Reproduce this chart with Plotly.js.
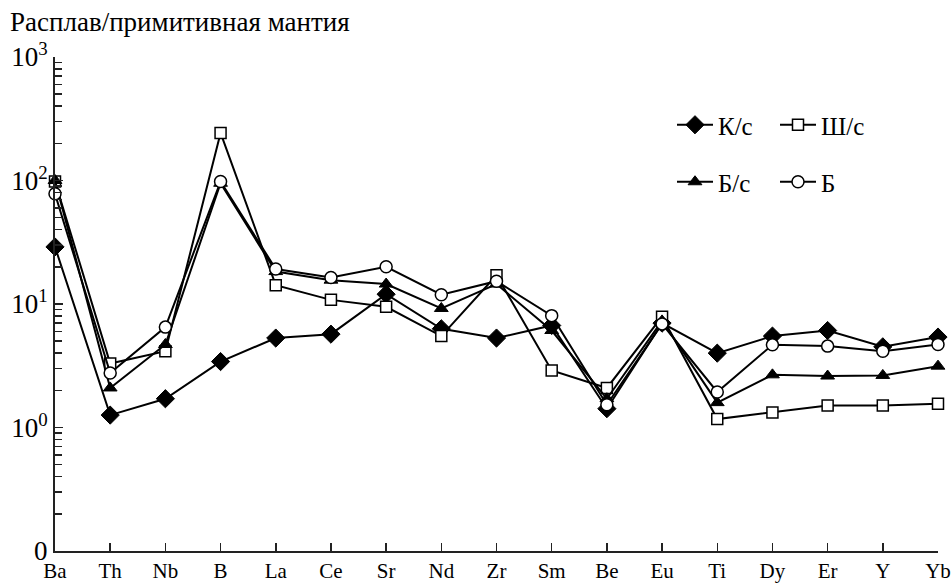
<!DOCTYPE html>
<html>
<head>
<meta charset="utf-8">
<script src="https://cdn.plot.ly/plotly-3.0.1.min.js"></script>
<style>html,body{margin:0;padding:0;background:#fff;}#chart{width:951px;height:585px;}</style>
</head>
<body>
<div id="chart"></div>
<script>
// Categories (elements)
const elements = ["Ba","Th","Nb","B","La","Ce","Sr","Nd","Zr","Sm","Be","Eu","Ti","Dy","Er","Y","Yb"];

// Series: melt / primitive mantle ratios
const ks  = [29, 1.26, 1.71, 3.42, 5.3, 5.7, 12.0, 6.3, 5.3, 6.7, 1.42, 7.0, 4.0, 5.5, 6.1, 4.5, 5.4];   // К/с
const shs = [98, 3.3, 4.15, 243, 14.2, 10.8, 9.5, 5.5, 17.1, 2.9, 2.09, 7.9, 1.17, 1.32, 1.51, 1.51, 1.56]; // Ш/с
const bs  = [100, 2.09, 4.7, 95, 18.3, 15.6, 14.5, 9.2, 14.5, 6.1, 1.71, 7.3, 1.59, 2.67, 2.61, 2.64, 3.14]; // Б/с
const b   = [78, 2.76, 6.5, 98, 19.2, 16.4, 20.0, 11.9, 15.3, 8.05, 1.53, 6.9, 1.94, 4.67, 4.56, 4.15, 4.7];   // Б

// Y axis: major ticks (labelled) and minor ticks
const yTickVals = [0.1, 1, 10, 100, 1000];
const yTickText = ["0", "10<sup>0</sup>", "10<sup>1</sup>", "10<sup>2</sup>", "10<sup>3</sup>"];
const yMinorVals = [0.2,0.3,0.4,0.5,0.6,0.7,0.8,0.9,
                    2,3,4,5,6,7,8,9,
                    20,30,40,50,60,70,80,90,
                    200,300,400,500,600,700,800,900];

const FONT = "Liberation Serif";
const lineStyle = {color:"#000", width:2};

function tr(name, y, marker, legend){
  return {
    type:"scatter", mode:"lines+markers", name:name, x:elements, y:y,
    line:lineStyle, cliponaxis:false, legend:legend, marker:marker
  };
}

const data = [
  tr("К/с", ks, {symbol:"diamond", size:14, color:"#000", line:{color:"#000", width:1}}, "legend"),
  tr("Ш/с", shs, {symbol:"square", size:11, color:"#fff", line:{color:"#000", width:1.5}}, "legend"),
  tr("Б/с", bs, {symbol:"triangle-up", size:12, color:"#000", line:{color:"#000", width:1}}, "legend2"),
  tr("Б", b, {symbol:"circle", size:12, color:"#fff", line:{color:"#000", width:1.5}}, "legend2")
];

const legendCommon = {
  orientation:"h", xref:"paper", yref:"paper",
  x:(672-55)/883, xanchor:"left", yanchor:"middle",
  font:{family:FONT, size:25, color:"#000"}, bgcolor:"rgba(0,0,0,0)",
  entrywidth:52, itemwidth:36, traceorder:"normal"
};

const layout = {
  width:951, height:585,
  margin:{l:55, r:13, t:57, b:34},
  paper_bgcolor:"#fff", plot_bgcolor:"#fff",
  font:{family:FONT, size:24, color:"#000"},
  title:{text:"Расплав/примитивная мантия", x:10/951, xanchor:"left", xref:"container",
         y:1-22/585, yanchor:"middle", yref:"container", font:{family:FONT, size:27, color:"#000"}},
  xaxis:{type:"category", range:[0,16], showgrid:false, zeroline:false,
         showline:true, linecolor:"#222", linewidth:2, mirror:false,
         ticks:"inside", ticklen:8, tickwidth:1.5, tickcolor:"#222",
         tickfont:{family:FONT, size:21, color:"#000"}},
  yaxis:{type:"log", range:[-1,3], showgrid:false, zeroline:false,
         showline:true, linecolor:"#222", linewidth:2,
         ticks:"inside", ticklen:8, tickwidth:1.5, tickcolor:"#222",
         tickmode:"array", tickvals:yTickVals, ticktext:yTickText,
         minor:{tickmode:"array", tickvals:yMinorVals, ticks:"inside", ticklen:7, tickwidth:1.5, tickcolor:"#222", showgrid:false},
         tickfont:{family:FONT, size:27, color:"#000"}},
  legend:Object.assign({}, legendCommon, {y:(551-125)/494}),
  legend2:Object.assign({}, legendCommon, {y:(551-182)/494}),
  showlegend:true
};

Plotly.newPlot("chart", data, layout, {displayModeBar:false, staticPlot:true});
</script>
</body>
</html>
